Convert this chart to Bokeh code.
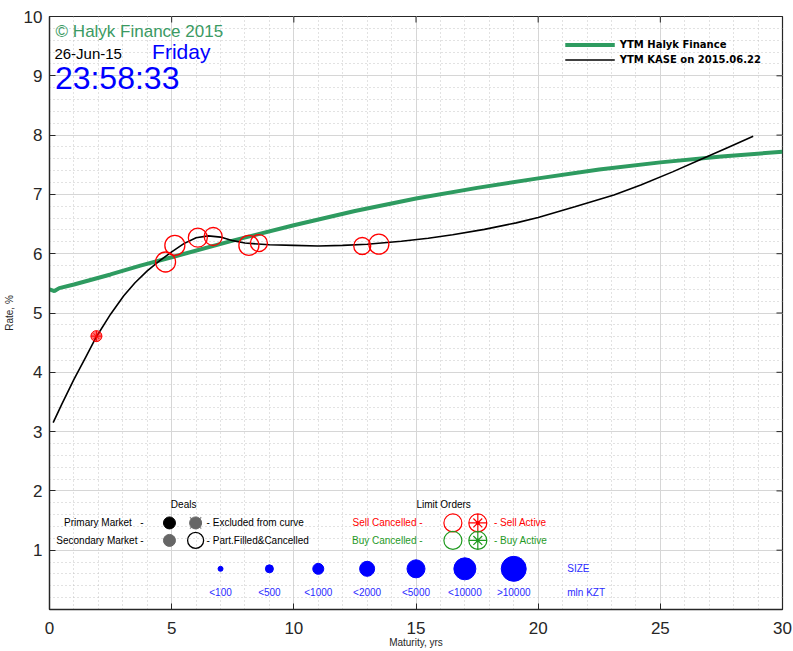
from bokeh.plotting import figure
from bokeh.models import Range1d, Legend, LegendItem, Label, SingleIntervalTicker
from bokeh.embed import file_html
from bokeh.resources import INLINE

# ---------------- data ----------------
halyk_x = [0, 0.2, 0.4, 1.0, 2.5, 3.72, 5.0, 7.5, 10.0, 12.5, 15.0, 17.5, 20.0, 22.5,
           25.0, 27.5, 30.0]
halyk_y = [5.40, 5.37, 5.42, 5.48, 5.65, 5.80, 5.94, 6.22, 6.48, 6.72, 6.93, 7.11, 7.27, 7.42,
           7.54, 7.64, 7.72]

kase_x = [0.15, 0.5, 1.0, 1.5, 1.92, 2.5, 3.04, 3.5, 4.0, 4.5, 5.0, 5.5, 6.0, 6.5, 7.0, 7.5,
          8.0, 9.0, 10.0, 11.0, 12.0, 13.0, 14.4, 15.5, 16.5, 17.8, 19.1, 20.0, 21.5, 23.1,
          24.2, 25.5, 26.6, 27.7, 28.8]
kase_y = [3.15, 3.46, 3.88, 4.27, 4.60, 4.98, 5.29, 5.51, 5.71, 5.88, 6.03, 6.17, 6.27, 6.30,
          6.28, 6.22, 6.18, 6.15, 6.14, 6.13, 6.14, 6.16, 6.21, 6.26, 6.32, 6.41, 6.52, 6.61,
          6.79, 6.99, 7.16, 7.38, 7.58, 7.78, 7.98]

sell_cancel_x = [4.75, 5.13, 6.07, 6.70, 8.16, 8.57, 12.80, 13.48]
sell_cancel_y = [5.86, 6.14, 6.27, 6.29, 6.14, 6.18, 6.13, 6.16]
sell_cancel_size = [20, 20, 19, 18, 20, 17, 17, 20]

sell_active_x = [1.92]
sell_active_y = [4.61]

size_labels = ["<100", "<500", "<1000", "<2000", "<5000", "<10000", ">10000"]
size_px = [5, 8, 11, 15, 18, 22, 25]

x_ticks = [0, 5, 10, 15, 20, 25, 30]
y_ticks = [0, 1, 2, 3, 4, 5, 6, 7, 8, 9, 10]

# ---------------- figure ----------------
TICK_FONT = "'Liberation Sans Narrow', 'Liberation Sans', sans-serif"
LBL_FONT = "Liberation Sans"
AX = "#262626"
RED = "#ff0000"
GREEN = "#1f9a1f"
BLUE = "#0000ff"
LBLUE = "#2a2aff"

p = figure(frame_width=733, frame_height=593, x_range=Range1d(0, 30), y_range=Range1d(0, 10),
           output_backend="svg", toolbar_location=None,
           min_border_left=10, min_border_top=16, min_border_right=10, min_border_bottom=0,
           background_fill_color="white", border_fill_color="white")
p.outline_line_color = AX
p.outline_line_width = 1.2

xt = SingleIntervalTicker(interval=5, num_minor_ticks=5)
yt = SingleIntervalTicker(interval=1, num_minor_ticks=5)
p.xaxis.ticker = xt
p.yaxis.ticker = yt
p.xgrid.ticker = xt
p.ygrid.ticker = yt
for g in (p.xgrid, p.ygrid):
    g.grid_line_color = "#d6d6d6"
    g.grid_line_width = 1
    g.minor_grid_line_color = "#c4c4c4"
    g.minor_grid_line_dash = "1 3"
    g.minor_grid_line_width = 1

for ax in (p.xaxis, p.yaxis):
    ax.axis_line_color = AX
    ax.axis_line_width = 1.3
    ax.major_tick_line_color = AX
    ax.major_tick_in = 6
    ax.major_tick_out = 0
    ax.minor_tick_in = 0
    ax.minor_tick_out = 0
    ax.major_label_text_font = TICK_FONT
    ax.major_label_text_font_size = "17px"
    ax.major_label_text_color = AX
    ax.axis_label_text_font = LBL_FONT
    ax.axis_label_text_font_size = "10px"
    ax.axis_label_text_font_style = "normal"
    ax.axis_label_text_color = AX

p.xaxis.axis_label = "Maturity, yrs"
p.yaxis.axis_label = "Rate, %"
p.xaxis.major_label_standoff = 12
p.yaxis.major_label_standoff = 7
p.xaxis.axis_label_standoff = 0
p.yaxis.axis_label_standoff = 6
p.yaxis.major_label_overrides = {0: ""}

# inward tick marks on the top and right edges of the box
tick_dx = 6 / 24.43
tick_dy = 6 / 59.3
p.segment(x0=[30 - tick_dx] * len(y_ticks), y0=y_ticks, x1=[30] * len(y_ticks), y1=y_ticks,
          line_color=AX, line_width=1)
p.segment(x0=x_ticks, y0=[10 - tick_dy] * len(x_ticks), x1=x_ticks, y1=[10] * len(x_ticks),
          line_color=AX, line_width=1)

# ---------------- curves ----------------
g_line = p.line(halyk_x, halyk_y, line_color="#2e9b60", line_width=4)
k_line = p.line(kase_x, kase_y, line_color="black", line_width=1.6)

p.scatter(sell_cancel_x, sell_cancel_y, size=sell_cancel_size, marker="circle",
          fill_color=None, line_color=RED, line_width=1.3)
p.scatter(sell_active_x, sell_active_y, size=11, marker="circle_cross",
          fill_color=RED, fill_alpha=0.55, line_color=RED, line_width=1)
p.scatter(sell_active_x, sell_active_y, size=8, marker="x", line_color=RED, line_width=1)

legend = Legend(items=[LegendItem(label="YTM Halyk Finance", renderers=[g_line]),
                       LegendItem(label="YTM KASE on 2015.06.22", renderers=[k_line])],
                location="top_right", margin=11, padding=10, spacing=0,
                label_height=15, glyph_height=15, glyph_width=50, label_standoff=5,
                border_line_alpha=0, background_fill_alpha=0,
                label_text_font="DejaVu Sans", label_text_font_size="10px",
                label_text_font_style="bold", label_text_color="black")
p.add_layout(legend)

# ---------------- header texts ----------------
def lab(x, y, text, size, color="black", align="left", font=LBL_FONT, style="normal"):
    p.add_layout(Label(x=x, y=y, text=text, text_font=font, text_font_size=size,
                       text_color=color, text_align=align, text_baseline="middle",
                       text_font_style=style))

lab(0.25, 9.75, "\u00a9 Halyk Finance 2015", "17px", color="#3a9a62")
lab(0.2, 9.38, "26-Jun-15", "15px")
lab(4.2, 9.41, "Friday", "21px", color=BLUE)
lab(0.22, 8.96, "23:58:33", "32px", color=BLUE)

# ---------------- bottom legend ----------------
NB = "\u00a0"
lab(5.49, 1.77, "Deals", "10px", align="center")
lab(3.85, 1.46, "Primary Market" + NB * 3 + "-", "10px", align="right")
lab(3.85, 1.165, "Secondary Market" + NB + "-", "10px", align="right")
p.scatter([4.91], [1.46], size=12, marker="circle", fill_color="black", line_color="black")
p.scatter([5.98], [1.46], size=16, marker="x", line_color="#8a8a8a", line_width=1.2)
p.scatter([5.98], [1.46], size=12, marker="circle", fill_color="#666666", line_color="#666666")
p.scatter([4.91], [1.165], size=12, marker="circle", fill_color="#666666", line_color="#666666")
p.scatter([5.98], [1.165], size=16, marker="circle", fill_color=None, line_color="black", line_width=1.3)
lab(6.43, 1.46, "- Excluded from curve", "10px")
lab(6.43, 1.165, "- Part.Filled&Cancelled", "10px")

lab(16.13, 1.77, "Limit Orders", "10px", align="center")
lab(15.27, 1.46, "Sell Cancelled -", "10px", color=RED, align="right")
lab(15.27, 1.165, "Buy Cancelled -", "10px", color=GREEN, align="right")
for yy, col in ((1.46, RED), (1.165, GREEN)):
    p.scatter([16.51], [yy], size=18, marker="circle", fill_color=None, line_color=col, line_width=1.2)
    p.scatter([17.53], [yy], size=18, marker="circle_cross", fill_color=None, line_color=col, line_width=1.2)
    p.scatter([17.53], [yy], size=12.5, marker="x", line_color=col, line_width=1.2)
    p.scatter([17.53], [yy], size=3, marker="circle", fill_color=col, line_color=col)
lab(18.19, 1.46, "- Sell Active", "10px", color=RED)
lab(18.19, 1.165, "- Buy Active", "10px", color=GREEN)

size_x = [7 + 2 * i for i in range(len(size_labels))]
p.scatter(size_x, [0.686] * len(size_x), size=size_px, marker="circle",
          fill_color=BLUE, line_color=BLUE)
for xx, t in zip(size_x, size_labels):
    lab(xx, 0.28, t, "10px", color=LBLUE, align="center")
lab(21.19, 0.686, "SIZE", "10px", color=LBLUE)
lab(21.19, 0.28, "mln KZT", "10px", color=LBLUE)

open("out.html", "w").write(file_html(p, INLINE))
